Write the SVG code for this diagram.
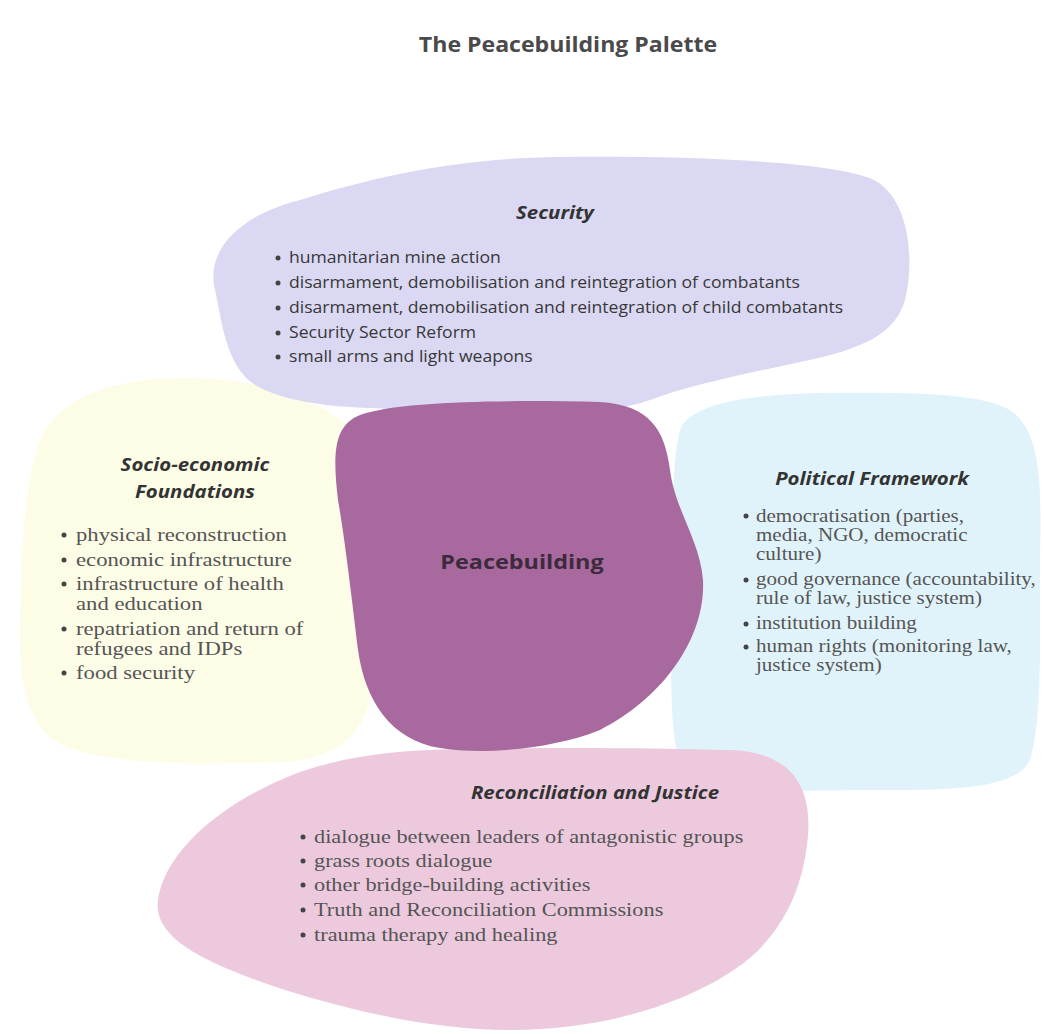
<svg xmlns="http://www.w3.org/2000/svg" width="1044" height="1034" viewBox="0 0 1044 1034">
<style>
.hd{font-family:"Open Sans","Noto Sans",sans-serif;font-weight:bold;font-style:italic;font-size:17px;fill:#333;text-anchor:middle}
.sans{font-family:"Open Sans","Noto Sans",sans-serif;font-size:16px;fill:#383838}
.serif{font-family:"Liberation Serif","Times New Roman",serif;font-size:18px;fill:#555}
.bul{fill:#444}
</style>
<rect width="1044" height="1034" fill="#ffffff"/>
<g transform="translate(568,0) scale(1.1,1)"><text x="0" y="52" style="font-family:'Open Sans','Noto Sans',sans-serif;font-weight:bold;font-size:21px;fill:#4a4a4a;text-anchor:middle">The Peacebuilding Palette</text></g>

<g id="political">
<path d="M680,430 C690,405 740,395 820,393 C900,392 980,392 1010,410 C1040,430 1042,480 1040,560 C1040,650 1042,720 1030,760 C1015,790 950,790 880,790 C800,790 720,795 690,780 C670,760 670,700 672,600 C672,520 672,460 680,430 Z" fill="#e1f3fa"/>
<g transform="translate(872,0) scale(1.2,1)"><text class="hd" x="0" y="485">Political Framework</text></g>
<g class="bul"><circle cx="746" cy="516" r="2.5"/><circle cx="746" cy="580" r="2.5"/><circle cx="746" cy="624" r="2.5"/><circle cx="746" cy="647" r="2.5"/></g>
<g transform="translate(756,0) scale(1.17,1)" class="serif">
<text x="0" y="522">democratisation (parties,</text>
<text x="0" y="541">media, NGO, democratic</text>
<text x="0" y="560">culture)</text>
<text x="0" y="585">good governance (accountability,</text>
<text x="0" y="604">rule of law, justice system)</text>
<text x="0" y="629">institution building</text>
<text x="0" y="652">human rights (monitoring law,</text>
<text x="0" y="671">justice system)</text>
</g>
</g>

<g id="socio">
<path d="M40,440 C60,395 120,375 200,378 C270,382 330,400 360,440 L370,700 C360,740 330,760 280,762 C200,765 120,765 70,748 C30,735 18,690 20,620 C22,540 25,480 40,440 Z" fill="#fdfde7"/>
<g transform="translate(195,0) scale(1.2,1)"><text class="hd" x="0" y="471">Socio-economic</text><text class="hd" x="0" y="498">Foundations</text></g>
<g class="bul"><circle cx="64" cy="535" r="2.5"/><circle cx="64" cy="560" r="2.5"/><circle cx="64" cy="584" r="2.5"/><circle cx="64" cy="629" r="2.5"/><circle cx="64" cy="673" r="2.5"/></g>
<g transform="translate(76,0) scale(1.26,1)" class="serif">
<text x="0" y="541">physical reconstruction</text>
<text x="0" y="566">economic infrastructure</text>
<text x="0" y="590">infrastructure of health</text>
<text x="0" y="610">and education</text>
<text x="0" y="635">repatriation and return of</text>
<text x="0" y="655">refugees and IDPs</text>
<text x="0" y="679">food security</text>
</g>
</g>

<g id="security">
<path d="M215,290 C205,250 240,215 300,200 C380,175 460,158 560,157 C680,156 820,160 870,178 C910,195 915,260 905,300 C895,335 860,350 800,362 C740,375 690,385 650,400 C600,418 520,412 440,410 C370,408 300,410 255,385 C225,365 222,320 215,290 Z" fill="#dad8f2"/>
<g transform="translate(555,0) scale(1.2,1)"><text class="hd" x="0" y="219">Security</text></g>
<g class="bul"><circle cx="278" cy="258" r="2.5"/><circle cx="278" cy="283" r="2.5"/><circle cx="278" cy="308" r="2.5"/><circle cx="278" cy="333" r="2.5"/><circle cx="278" cy="357" r="2.5"/></g>
<g transform="translate(289,0) scale(1.1,1)" class="sans">
<text x="0" y="263">humanitarian mine action</text>
<text x="0" y="288">disarmament, demobilisation and reintegration of combatants</text>
<text x="0" y="313">disarmament, demobilisation and reintegration of child combatants</text>
<text x="0" y="338">Security Sector Reform</text>
<text x="0" y="362">small arms and light weapons</text>
</g>
</g>

<g id="reconciliation">
<path d="M158,900 C165,850 225,800 300,772 C350,755 400,750 460,749 C560,747 660,748 730,750 C790,752 812,785 808,835 C804,885 785,930 745,962 C695,1000 610,1030 510,1030 C430,1030 350,1010 285,990 C210,965 152,940 158,900 Z" fill="#ecc9dd"/>
<g transform="translate(595,0) scale(1.2,1)"><text class="hd" x="0" y="799">Reconciliation and Justice</text></g>
<g class="bul"><circle cx="303" cy="837" r="2.5"/><circle cx="303" cy="861" r="2.5"/><circle cx="303" cy="885" r="2.5"/><circle cx="303" cy="910" r="2.5"/><circle cx="303" cy="935" r="2.5"/></g>
<g transform="translate(314,0) scale(1.24,1)" class="serif">
<text x="0" y="843">dialogue between leaders of antagonistic groups</text>
<text x="0" y="867">grass roots dialogue</text>
<text x="0" y="891">other bridge-building activities</text>
<text x="0" y="916">Truth and Reconciliation Commissions</text>
<text x="0" y="941">trauma therapy and healing</text>
</g>
</g>

<g id="peacebuilding">
<path d="M360,415 C400,400 520,400 600,402 C650,405 665,430 670,470 C675,510 700,540 703,580 C706,640 660,700 600,730 C550,750 480,755 440,748 C390,740 365,700 358,650 C352,600 345,540 338,500 C332,450 335,425 360,415 Z" fill="#a86a9e"/>
<g transform="translate(522,0) scale(1.17,1)"><text x="0" y="569" style="font-family:'Open Sans','Noto Sans',sans-serif;font-weight:bold;font-size:20px;fill:#3d2a3d;text-anchor:middle">Peacebuilding</text></g>
</g>
<g id="connectors"></g>
</svg>
